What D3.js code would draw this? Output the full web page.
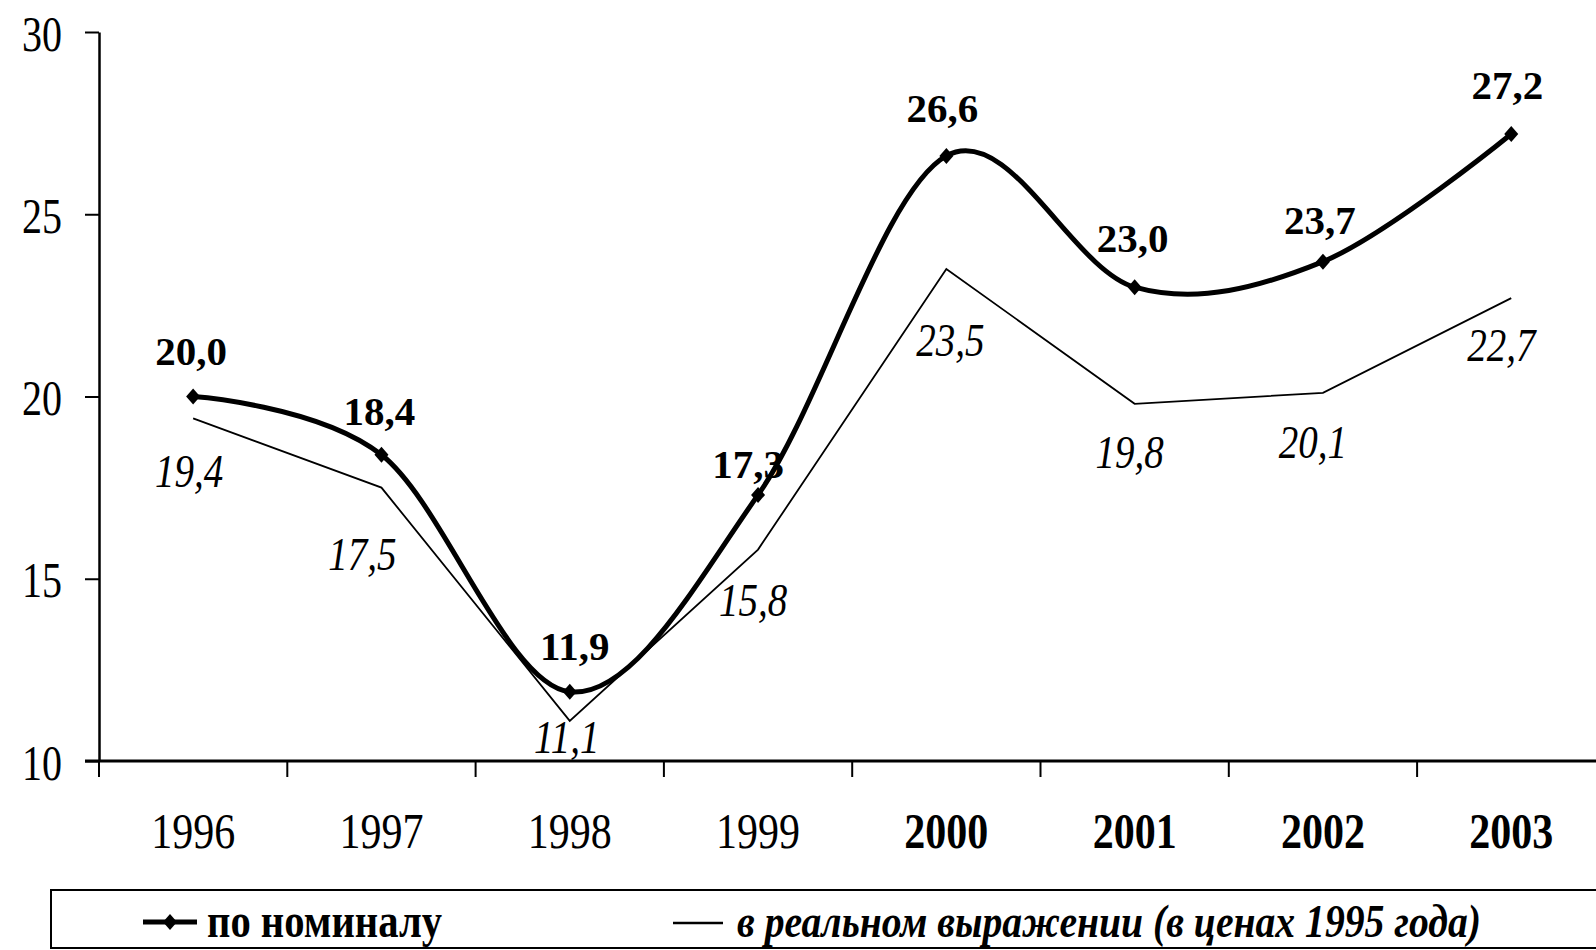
<!DOCTYPE html>
<html>
<head>
<meta charset="utf-8">
<script src="https://cdn.jsdelivr.net/npm/d3@7"></script>
<style>
  body { margin: 0; background: #fff; }
  text { font-family: "Liberation Serif", "Times New Roman", serif; fill: #000; }
</style>
</head>
<body>
<div class="chart"></div>
<script>
// data
var years = [1996, 1997, 1998, 1999, 2000, 2001, 2002, 2003];
var nominal = [20.0, 18.4, 11.9, 17.3, 26.6, 23.0, 23.7, 27.2];
var real = [19.4, 17.5, 11.1, 15.8, 23.5, 19.8, 20.1, 22.7];
var yTicks = [10, 15, 20, 25, 30];
var legendLabels = ["по номиналу", "в реальном выражении (в ценах 1995 года)"];

// label nudges in px (layout only)
var nomDx = [-2, -2, 5, -10, -4, -2, -3, -4];
var nomDy = [-32, -30, -32, -17, -34, -35, -28, -35];
var realDx = [-4, -19, -3, -5, 4, -5, -10, -10];
var realDy = [69, 82, 32, 66, 87, 64, 65, 63];

var svgWidth = 1596;
var svgHeight = 950;

function fmt(v) { return v.toFixed(1).replace(".", ","); }

var svg = d3.select(".chart")
  .append("svg")
  .attr("width", svgWidth)
  .attr("height", svgHeight);

// scales
var x = d3.scaleBand()
  .domain(years)
  .range([99, 99 + 8 * 188.3]);
var cx = function (yr) { return x(yr) + x.bandwidth() / 2; };

var y = d3.scaleLinear()
  .domain([10, 30])
  .range([761, 32]);

// y axis
var yAxis = svg.append("g")
  .attr("transform", "translate(99,0)")
  .call(d3.axisLeft(y).tickValues(yTicks).tickSize(14).tickSizeOuter(0).tickPadding(23));
yAxis
  .attr("font-family", "Liberation Serif, Times New Roman, serif")
  .attr("font-size", 40);
yAxis.select(".domain").attr("stroke-width", 2.5);
yAxis.selectAll(".tick line").attr("stroke-width", 2);
yAxis.selectAll(".tick text")
  .attr("dy", "0.36em")
  .attr("transform", "scale(1,1.25)");

// x axis line and ticks at category borders
svg.append("line")
  .attr("x1", 85).attr("x2", svgWidth)
  .attr("y1", y(10)).attr("y2", y(10))
  .attr("stroke", "#000").attr("stroke-width", 3);

svg.selectAll(".xtick")
  .data(years)
  .enter()
  .append("line")
  .attr("class", "xtick")
  .attr("x1", d => x(d)).attr("x2", d => x(d))
  .attr("y1", y(10)).attr("y2", y(10) + 16)
  .attr("stroke", "#000").attr("stroke-width", 2);

svg.selectAll(".xlabel")
  .data(years)
  .enter()
  .append("text")
  .attr("class", "xlabel")
  .attr("transform", d => `translate(${cx(d)},848) scale(1,1.2)`)
  .attr("text-anchor", "middle")
  .attr("font-size", 42)
  .attr("font-weight", d => d >= 2000 ? "bold" : "normal")
  .text(d => d);

// real line (thin, straight)
var realLine = d3.line()
  .x((d, i) => cx(years[i]))
  .y(d => y(d));

svg.append("path")
  .datum(real)
  .attr("d", realLine)
  .attr("fill", "none")
  .attr("stroke", "#000")
  .attr("stroke-width", 1.8);

// nominal line (thick, smoothed)
var nomLine = d3.line()
  .x((d, i) => cx(years[i]))
  .y(d => y(d))
  .curve(d3.curveCardinal.tension(0));

svg.append("path")
  .datum(nominal)
  .attr("d", nomLine)
  .attr("fill", "none")
  .attr("stroke", "#000")
  .attr("stroke-width", 5)
  .attr("stroke-linejoin", "round");

var diamond = "M0,-8L7,0L0,8L-7,0Z";

svg.selectAll(".marker")
  .data(nominal)
  .enter()
  .append("path")
  .attr("class", "marker")
  .attr("d", diamond)
  .attr("transform", (d, i) => `translate(${cx(years[i])},${y(d)})`)
  .attr("fill", "#000");

// value labels
svg.selectAll(".nomlabel")
  .data(nominal)
  .enter()
  .append("text")
  .attr("class", "nomlabel")
  .attr("x", (d, i) => cx(years[i]) + nomDx[i])
  .attr("y", (d, i) => y(d) + nomDy[i])
  .attr("text-anchor", "middle")
  .attr("font-size", 41)
  .attr("font-weight", "bold")
  .text(d => fmt(d));

svg.selectAll(".reallabel")
  .data(real)
  .enter()
  .append("text")
  .attr("class", "reallabel")
  .attr("transform", (d, i) => `translate(${cx(years[i]) + realDx[i]},${y(d) + realDy[i]}) scale(1,1.2)`)
  .attr("text-anchor", "middle")
  .attr("font-size", 39)
  .attr("font-style", "italic")
  .text(d => fmt(d));

// legend box
svg.append("rect")
  .attr("x", 51).attr("y", 890)
  .attr("width", 1600).attr("height", 58)
  .attr("fill", "none")
  .attr("stroke", "#000")
  .attr("stroke-width", 2);

svg.append("line")
  .attr("x1", 143).attr("x2", 197)
  .attr("y1", 922).attr("y2", 922)
  .attr("stroke", "#000").attr("stroke-width", 5);
svg.append("path")
  .attr("d", diamond)
  .attr("transform", "translate(170,922)")
  .attr("fill", "#000");

svg.append("text")
  .attr("transform", "translate(207,937) scale(1,1.15)")
  .attr("font-size", 42)
  .attr("font-weight", "bold")
  .attr("textLength", 235)
  .attr("lengthAdjust", "spacingAndGlyphs")
  .text(legendLabels[0]);

svg.append("line")
  .attr("x1", 673).attr("x2", 723)
  .attr("y1", 923).attr("y2", 923)
  .attr("stroke", "#000").attr("stroke-width", 2.5);

svg.append("text")
  .attr("transform", "translate(737,937) scale(1,1.15)")
  .attr("font-size", 40)
  .attr("font-style", "italic")
  .attr("font-weight", "bold")
  .attr("textLength", 744)
  .attr("lengthAdjust", "spacingAndGlyphs")
  .text(legendLabels[1]);
</script>
</body>
</html>
